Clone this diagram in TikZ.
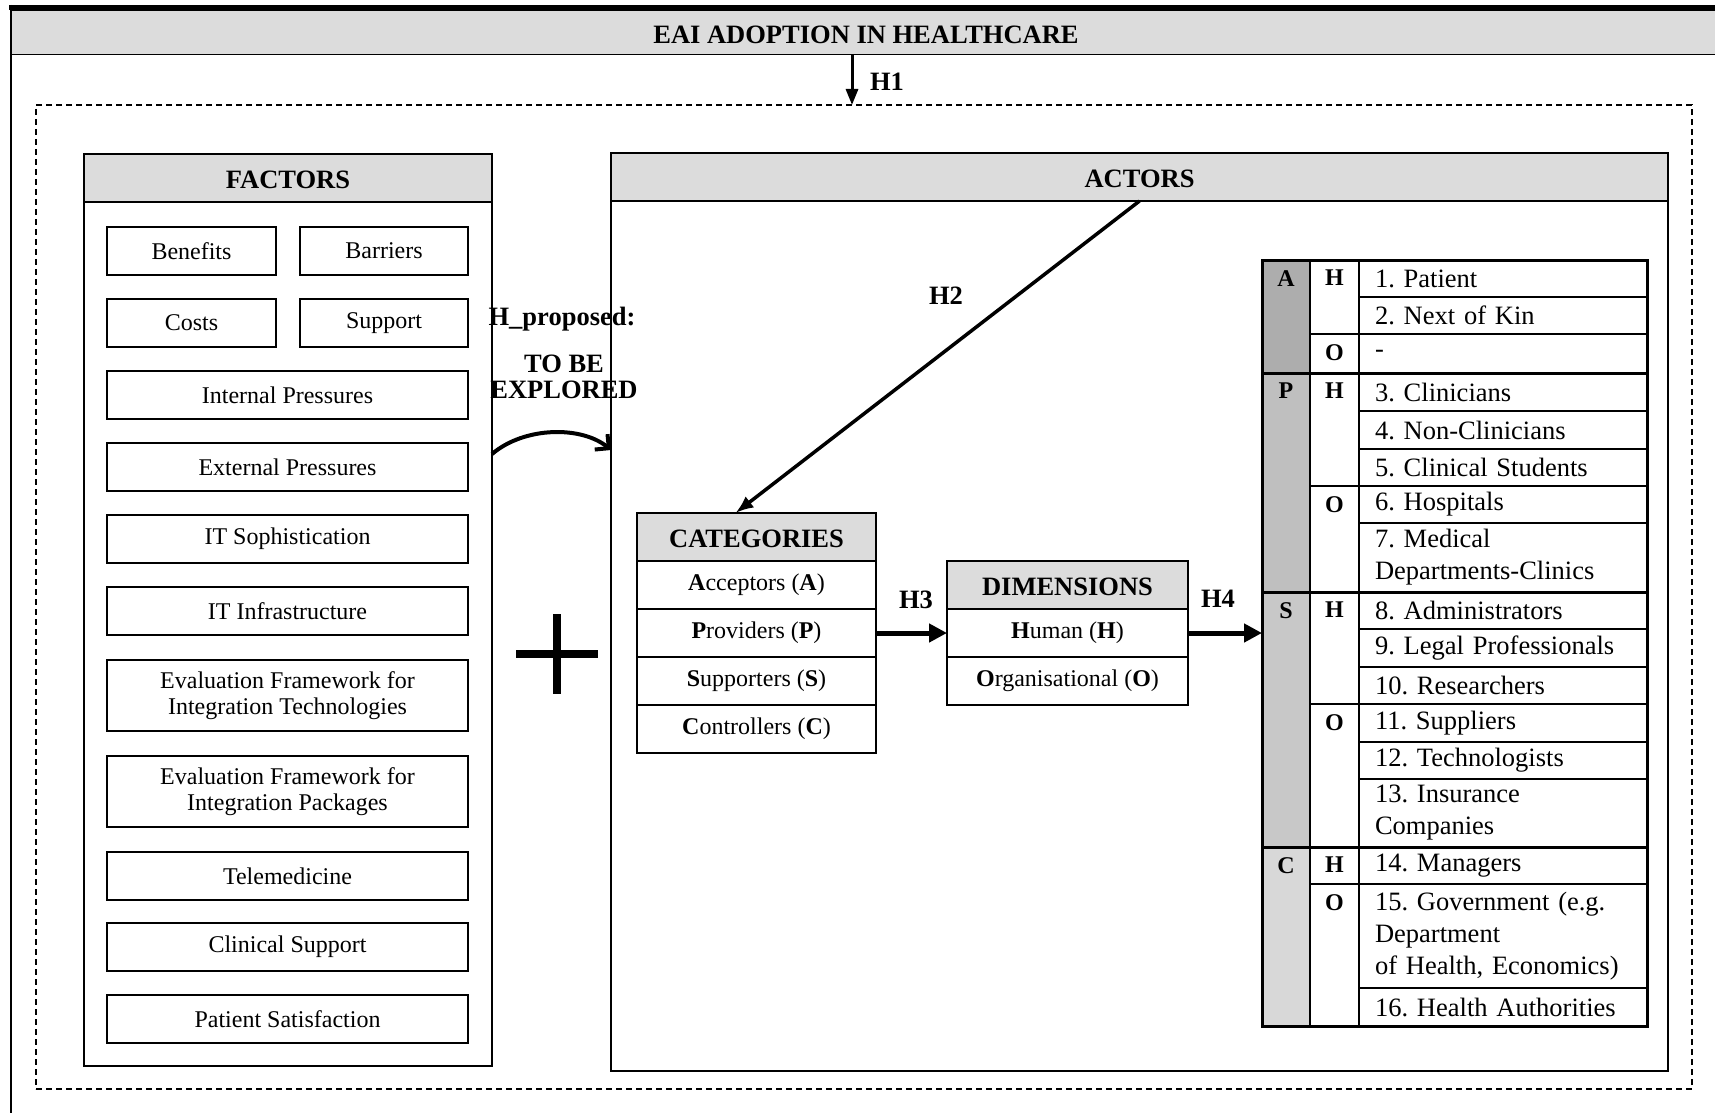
\documentclass[tikz,border=0pt]{standalone}
\usepackage{fontspec}
\setmainfont{Liberation Serif}
\usepackage{tikz}
\usetikzlibrary{arrows.meta,positioning,calc}
\definecolor{headgray}{HTML}{DCDCDC}
\definecolor{grayA}{HTML}{ADADAD}
\definecolor{grayP}{HTML}{BFBFBF}
\definecolor{grayS}{HTML}{C8C8C8}
\definecolor{grayC}{HTML}{D8D8D8}
\frenchspacing

\begin{document}
\begin{tikzpicture}[x=1pt,y=-1pt,
  framebox/.style={draw, line width=2pt, outer sep=0pt, inner sep=0pt},
  headbox/.style={draw, line width=1.5pt, fill=headgray, outer sep=0pt, inner sep=0pt, minimum height=48pt, text height=21pt, text depth=0pt, font=\bfseries\fontsize{26.5}{30}\selectfont},
  factorbox/.style={draw, line width=1.8pt, outer sep=0pt, inner sep=0pt, minimum height=48pt, align=center, font=\fontsize{24}{26}\selectfont},
  halfbox/.style={factorbox, minimum width=168.5pt},
  widebox/.style={factorbox, minimum width=361pt},
  rowbox/.style={draw, line width=1.5pt, outer sep=0pt, inner sep=0pt, minimum height=48pt, font=\fontsize{24}{26}\selectfont},
  hyplabel/.style={inner sep=0pt, font=\bfseries\fontsize{26.5}{26}\selectfont},
  cellbox/.style={draw, line width=2pt, outer sep=0pt, inner sep=0pt, anchor=north west},
  itembox/.style={draw, line width=2pt, outer sep=0pt, inner xsep=16pt, inner ysep=0pt, text width=256pt, align=left, font=\fontsize{26.5}{32}\selectfont},
  letterbox/.style={inner sep=0pt, font=\bfseries\fontsize{24}{24}\selectfont}]
  \useasboundingbox (0,0) rectangle (1715,1113); % 図全体の大きさ
  \draw[line width=5pt] (9,7.5) -- (1715,7.5); % 外枠の上辺
  \draw[line width=2pt] (11,5) -- (11,1113); % 外枠の左辺
  \node[headbox, anchor=north west, minimum width=1710pt, minimum height=44pt, line width=1pt] (title) at (11,11) {EAI ADOPTION IN HEALTHCARE}; % タイトル
  \node[draw, line width=1.8pt, dash pattern=on 6pt off 4pt, outer sep=0pt, minimum width=1656pt, minimum height=984pt, anchor=north west] (hyp) at (36,105) {}; % 点線の枠
  \draw[line width=3pt, -{Triangle[length=16pt,width=12pt]}] (852,0 |- title.south) -- (852,0 |- hyp.north); % H1 の矢印
  \node[hyplabel] (h1) at (887,82) {H1}; % H1

  \node[framebox, minimum width=408pt, minimum height=912pt, anchor=north west] (factors) at (84,154) {}; % 要因の枠
  \node[headbox, minimum width=408pt, anchor=north west] (facthead) at (84,154) {FACTORS}; % 要因の見出し
  \node[halfbox] (benefits) at (191.5,251) {Benefits};
  \node[halfbox] (barriers) at (384,251) {Barriers};
  \node[halfbox] (costs) at (191.5,323) {Costs};
  \node[halfbox] (support) at (384,323) {Support};
  \node[widebox] (internal) at (287.5,395) {Internal Pressures};
  \node[widebox] (external) at (287.5,467) {External Pressures};
  \node[widebox] (itsoph) at (287.5,539) {IT Sophistication};
  \node[widebox] (itinfra) at (287.5,611) {IT Infrastructure};
  \node[widebox, minimum height=71pt] (evaltech) at (287.5,695.5) {Evaluation Framework for\\Integration Technologies};
  \node[widebox, minimum height=71pt] (evalpack) at (287.5,791.5) {Evaluation Framework for\\Integration Packages};
  \node[widebox] (telemed) at (287.5,876) {Telemedicine};
  \node[widebox] (clinsup) at (287.5,947) {Clinical Support};
  \node[widebox] (patsat) at (287.5,1019) {Patient Satisfaction};

  \draw[line width=8pt] (516,654) -- (598,654); % プラス記号（横）
  \draw[line width=8pt] (557,614) -- (557,694); % プラス記号（縦）
  \node[hyplabel] (hprop) at (562,319) {H\_proposed:};
  \node[hyplabel, align=center] (tobe) at (564,377) {TO BE\\EXPLORED};

  \node[framebox, minimum width=1057pt, minimum height=918pt, anchor=north west] (actors) at (611,153) {}; % 行為者の枠
  \node[headbox, minimum width=1057pt, anchor=north west] (acthead) at (611,153) {ACTORS}; % 行為者の見出し
  \draw[line width=4pt, -{Straight Barb[length=10pt,width=20pt]}] (factors.east |- 0,454) .. controls (525,426) and (582,426) .. (actors.west |- 0,450); % 曲がった矢印

  \node[headbox, minimum width=239pt, anchor=north west] (cathead) at (637,513) {CATEGORIES};
  \node[rowbox, minimum width=239pt, below=0pt of cathead] (acc) {\textbf{A}cceptors (\textbf{A})};
  \node[rowbox, minimum width=239pt, below=0pt of acc] (prov) {\textbf{P}roviders (\textbf{P})};
  \node[rowbox, minimum width=239pt, below=0pt of prov] (supp) {\textbf{S}upporters (\textbf{S})};
  \node[rowbox, minimum width=239pt, below=0pt of supp] (contr) {\textbf{C}ontrollers (\textbf{C})};
  \node[headbox, minimum width=241pt, anchor=north west] (dimhead) at (947,561) {DIMENSIONS};
  \node[rowbox, minimum width=241pt, below=0pt of dimhead] (human) {\textbf{H}uman (\textbf{H})};
  \node[rowbox, minimum width=241pt, below=0pt of human] (organ) {\textbf{O}rganisational (\textbf{O})};

  \node[itembox, anchor=north west, minimum height=37pt] (patient) at (1359,260) {1. Patient}; % 表の項目
  \node[itembox, minimum height=37pt, below=0pt of patient] (kin) {2. Next of Kin};
  \node[itembox, minimum height=39pt, below=0pt of kin] (aorg) {-};
  \node[itembox, minimum height=38pt, below=0pt of aorg] (clin) {3. Clinicians};
  \node[itembox, minimum height=38pt, below=0pt of clin] (nonclin) {4. Non-Clinicians};
  \node[itembox, minimum height=37pt, below=0pt of nonclin] (students) {5. Clinical Students};
  \node[itembox, minimum height=37pt, below=0pt of students] (hosp) {6. Hospitals};
  \node[itembox, minimum height=69pt, below=0pt of hosp] (medical) {7. Medical\\Departments-Clinics};
  \node[itembox, minimum height=37pt, below=0pt of medical] (admin) {8. Administrators};
  \node[itembox, minimum height=38pt, below=0pt of admin] (legal) {9. Legal Professionals};
  \node[itembox, minimum height=37pt, below=0pt of legal] (research) {10. Researchers};
  \node[itembox, minimum height=38pt, below=0pt of research] (suppl) {11. Suppliers};
  \node[itembox, minimum height=37pt, below=0pt of suppl] (techn) {12. Technologists};
  \node[itembox, minimum height=68pt, below=0pt of techn] (insur) {13. Insurance\\Companies};
  \node[itembox, minimum height=37pt, below=0pt of insur] (manag) {14. Managers};
  \node[itembox, minimum height=104pt, below=0pt of manag] (govt) {15. Government (e.g.\\Department\\of Health, Economics)};
  \node[itembox, minimum height=38pt, below=0pt of govt] (health) {16. Health Authorities};

  \node[cellbox, fill=grayA, minimum width=48pt, minimum height=113pt] (secA) at (1262,260) {}; % カテゴリの列
  \node[cellbox, fill=grayP, minimum width=48pt, minimum height=219pt, below=0pt of secA] (secP) {};
  \node[cellbox, fill=grayS, minimum width=48pt, minimum height=255pt, below=0pt of secP] (secS) {};
  \node[cellbox, fill=grayC, minimum width=48pt, minimum height=179pt, below=0pt of secS] (secC) {};
  \node[cellbox, minimum width=49pt, minimum height=74pt] (AH) at (1310,260) {}; % 次元の列
  \node[cellbox, minimum width=49pt, minimum height=39pt, below=0pt of AH] (AO) {};
  \node[cellbox, minimum width=49pt, minimum height=113pt, below=0pt of AO] (PH) {};
  \node[cellbox, minimum width=49pt, minimum height=106pt, below=0pt of PH] (PO) {};
  \node[cellbox, minimum width=49pt, minimum height=112pt, below=0pt of PO] (SH) {};
  \node[cellbox, minimum width=49pt, minimum height=143pt, below=0pt of SH] (SO) {};
  \node[cellbox, minimum width=49pt, minimum height=37pt, below=0pt of SO] (CH) {};
  \node[cellbox, minimum width=49pt, minimum height=142pt, below=0pt of CH] (CO) {};
  \node[letterbox, below=10pt of secA.north] (lA) {A};
  \node[letterbox, below=10pt of secP.north] (lP) {P};
  \node[letterbox, below=10pt of secS.north] (lS) {S};
  \node[letterbox, below=10pt of secC.north] (lC) {C};
  \node[letterbox, below=10pt of AH.north] (lAH) {H};
  \node[letterbox, below=10pt of AO.north] (lAO) {O};
  \node[letterbox, below=10pt of PH.north] (lPH) {H};
  \node[letterbox, below=10pt of PO.north] (lPO) {O};
  \node[letterbox, below=10pt of SH.north] (lSH) {H};
  \node[letterbox, below=10pt of SO.north] (lSO) {O};
  \node[letterbox, below=10pt of CH.north] (lCH) {H};
  \node[letterbox, below=10pt of CO.north] (lCO) {O};
  \draw[line width=3pt] (secP.north west) -- (secP.north west -| patient.east); % 区切り線
  \draw[line width=3pt] (secS.north west) -- (secS.north west -| patient.east); % 区切り線
  \draw[line width=3pt] (secC.north west) -- (secC.north west -| patient.east); % 区切り線
  \draw[line width=3pt] (secA.north west) rectangle (health.south east); % 表の外枠

  \draw[line width=3.5pt, -{Latex[length=18pt,width=14pt]}] (acthead.south) -- ($(cathead.north)+(-21,0)$); % H2 の矢印
  \node[hyplabel] (h2) at (946,296) {H2};
  \draw[line width=5pt, -{Triangle[length=18pt,width=18pt]}] (prov.east) -- (human.west); % H3 の矢印
  \node[hyplabel] (h3) at (916,600) {H3};
  \draw[line width=5pt, -{Triangle[length=18pt,width=18pt]}] (human.east) -- (human.east -| secS.west); % H4 の矢印
  \node[hyplabel] (h4) at (1218,599) {H4};
\end{tikzpicture}
\end{document}
